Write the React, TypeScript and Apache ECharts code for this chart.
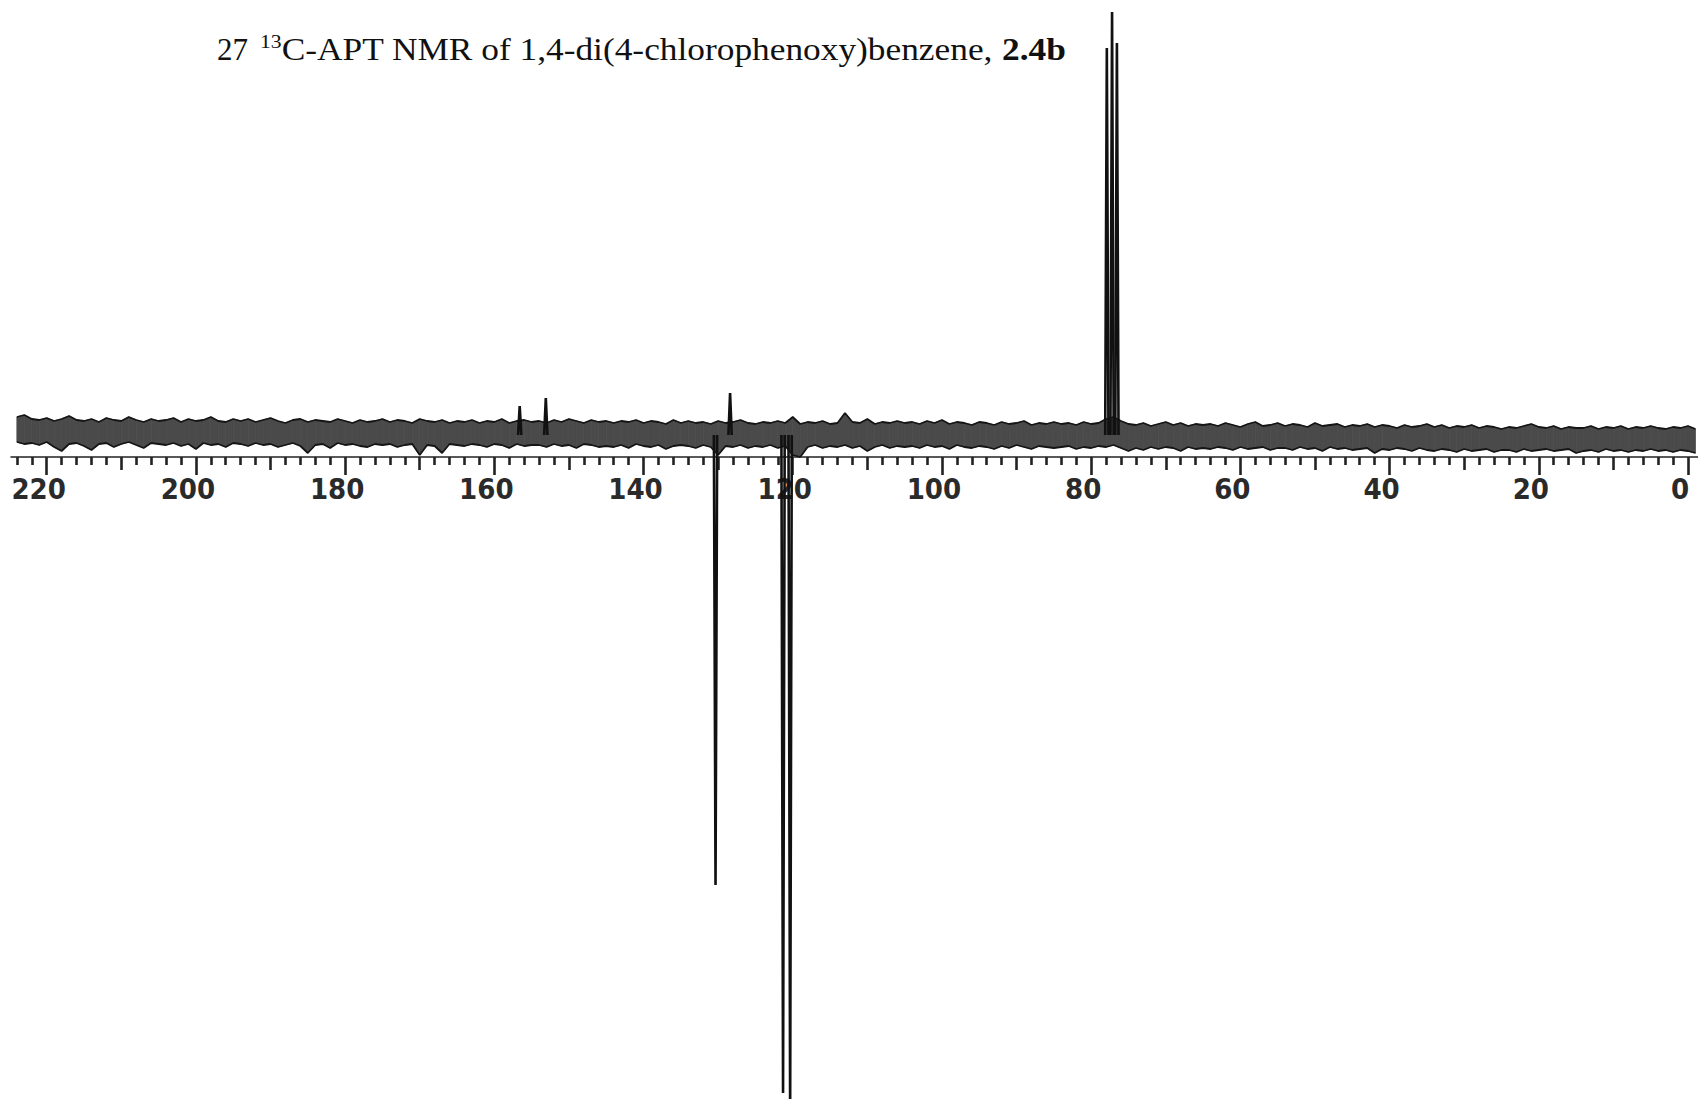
import React, { useEffect, useRef } from "react";
import * as echarts from "echarts";

// ---- data ----
// noise envelope of the baseline, sampled every 1 ppm from 224 ppm down to -1 ppm
// (intensity units: pixels of the original plot, 0 = mean baseline)
const NOISE_START_PPM = 224;
const NOISE_STEP_PPM = 1;
const noiseUpper = [
  18, 20, 16, 15, 17, 14, 16, 19, 15, 14,
  16, 13, 17, 15, 14, 18, 15, 13, 16, 14,
  15, 17, 13, 16, 14, 15, 18, 14, 13, 16,
  14, 16, 13, 15, 17, 14, 12, 15, 16, 13,
  15, 14, 13, 16, 14, 12, 15, 13, 14, 16,
  13, 15, 14, 12, 16, 14, 13, 15, 12, 14,
  13, 15, 12, 14, 13, 16, 12, 14, 15, 13,
  14, 12, 15, 13, 16, 14, 12, 15, 13, 14,
  12, 14, 13, 15, 12, 14, 13, 11, 15, 12,
  14, 12, 13, 11, 14, 12, 13, 15, 12, 11,
  13, 12, 14, 12, 18, 11, 13, 12, 14, 11,
  12, 22, 13, 12, 16, 11, 13, 12, 14, 12,
  13, 11, 14, 12, 15, 11, 13, 12, 10, 13,
  12, 10, 13, 11, 12, 14, 10, 12, 11, 13,
  11, 12, 10, 13, 11, 12, 16, 18, 14, 11,
  10, 12, 9, 11, 13, 10, 12, 9, 11, 10,
  11, 9, 12, 10, 8, 11, 13, 9, 10, 12,
  9, 11, 10, 8, 12, 9, 10, 11, 8, 10,
  9, 11, 8, 10, 9, 7, 10, 8, 9, 11,
  8, 10, 7, 9, 8, 10, 7, 9, 8, 6,
  8, 7, 9, 11, 8, 7, 9, 6, 8, 7,
  7, 9, 6, 8, 7, 9, 6, 8, 7, 9,
  7, 6, 8, 7, 9, 6,
];
const noiseLower = [
  -7, -9, -8, -10, -7, -12, -16, -9, -8, -11,
  -15, -9, -8, -12, -9, -7, -10, -13, -8, -9,
  -10, -8, -11, -9, -14, -8, -10, -9, -12, -8,
  -9, -11, -8, -10, -9, -12, -10, -8, -11, -18,
  -10, -9, -13, -8, -10, -9, -11, -12, -9, -10,
  -9, -12, -10, -9, -20, -10, -11, -18, -9, -10,
  -11, -9, -10, -12, -9, -10, -13, -9, -11, -10,
  -10, -12, -9, -11, -10, -13, -9, -10, -12, -11,
  -12, -10, -13, -9, -11, -12, -10, -14, -11, -10,
  -11, -13, -10, -12, -20, -11, -12, -10, -13, -11,
  -12, -10, -13, -11, -20, -22, -12, -10, -13, -11,
  -12, -10, -13, -11, -16, -12, -10, -13, -11, -12,
  -11, -13, -10, -12, -11, -14, -10, -12, -13, -11,
  -12, -14, -11, -13, -10, -12, -14, -11, -12, -13,
  -12, -11, -14, -12, -13, -11, -12, -10, -13, -16,
  -13, -15, -12, -14, -12, -13, -16, -12, -14, -13,
  -14, -12, -13, -15, -12, -14, -13, -12, -15, -13,
  -13, -15, -12, -14, -13, -16, -12, -14, -13, -15,
  -14, -13, -18, -14, -15, -13, -14, -16, -13, -15,
  -16, -14, -15, -17, -14, -16, -15, -14, -17, -15,
  -15, -17, -14, -16, -15, -14, -16, -15, -14, -18,
  -16, -15, -17, -14, -16, -15, -17, -15, -16, -14,
  -16, -15, -17, -15, -16, -18,
];

// resolved lines (ppm) and their APT intensities (positive = C / CH2, negative = CH / CH3)
const peakShifts = [156.6, 153.1, 128.4, 77.9, 77.2, 76.55, 130.35, 121.3, 120.35];
const peakIntensities = [29, 37, 42, 387, 423, 392, -450, -658, -680];

// ruler
const majorTicks = [220, 200, 180, 160, 140, 120, 100, 80, 60, 40, 20, 0];
const mediumTicks = [210, 190, 170, 150, 130, 110, 90, 70, 50, 30, 10];
const minorTicks = [
  224, 222, 218, 216, 214, 212, 208, 206, 204, 202,
  198, 196, 194, 192, 188, 186, 184, 182, 178, 176,
  174, 172, 168, 166, 164, 162, 158, 156, 154, 152,
  148, 146, 144, 142, 138, 136, 134, 132, 128, 126,
  124, 122, 118, 116, 114, 112, 108, 106, 104, 102,
  98, 96, 94, 92, 88, 86, 84, 82, 78, 76,
  74, 72, 68, 66, 64, 62, 58, 56, 54, 52,
  48, 46, 44, 42, 38, 36, 34, 32, 28, 26,
  24, 22, 18, 16, 14, 12, 8, 6, 4, 2,
];

const titleNumber = "27";
const titleIsotope = "13";
const titleText = "C-APT NMR of 1,4-di(4-chlorophenoxy)benzene, ";
const titleCompound = "2.4b";

// ---- layout (pixels) ----
const W = 1698;
const H = 1099;
const PPM_LEFT_EDGE = 226.26; // ppm at left edge of page
const PPM_RIGHT_EDGE = -1.34; // ppm at right edge of page
const RULER_LEFT = 11;
const PPM_RULER_LEFT = 224.785;
const AXIS_Y = 457;

const App: React.FC = () => {
  const ref = useRef<HTMLDivElement>(null);

  useEffect(() => {
    if (!ref.current) return;
    const chart = echarts.init(ref.current, null, { renderer: "svg" });

    const ppmAt = (i: number) => NOISE_START_PPM - i * NOISE_STEP_PPM;
    const bandRows = noiseUpper.map((v, i) => [ppmAt(i), v, noiseLower[i]]);
    const upperLine = noiseUpper.map((v, i) => [ppmAt(i), v]);
    const lowerLine = noiseLower.map((v, i) => [ppmAt(i), v]);

    const peakSeries = peakShifts.map((s, k) => ({
      type: "line",
      xAxisIndex: 0,
      yAxisIndex: 0,
      symbol: "none",
      z: 6,
      lineStyle: { color: "#111", width: 2.6 },
      data: [
        [s + 0.22, 0],
        [s, peakIntensities[k]],
        [s - 0.22, 0],
      ],
    }));

    const labelFont =
      '"Liberation Sans Narrow", "DejaVu Sans Condensed", "Liberation Sans", sans-serif';

    const rulerAxis = (ticks: number[], len: number, withLine: boolean, withLabels: boolean) => ({
      type: "value",
      gridIndex: 1,
      position: "bottom",
      inverse: true,
      min: PPM_RIGHT_EDGE,
      max: PPM_RULER_LEFT,
      splitLine: { show: false },
      axisLine: {
        show: withLine,
        onZero: false,
        lineStyle: { color: "#222", width: 1.5 },
      },
      axisTick: {
        show: true,
        customValues: ticks,
        length: len,
        lineStyle: { color: "#222", width: 2.6 },
      },
      axisLabel: withLabels
        ? {
            show: true,
            customValues: majorTicks,
            margin: 17,
            fontFamily: labelFont,
            fontWeight: "bold",
            fontSize: 29,
            color: "#2a2a2a",
            padding: [0, 16, 0, 0],
          }
        : { show: false },
    });

    const option: any = {
      animation: false,
      backgroundColor: "#ffffff",
      grid: [
        { left: 0, right: 0, top: 0, bottom: 0 },
        { left: RULER_LEFT, right: 0, top: AXIS_Y - 57, height: 57 },
      ],
      xAxis: [
        {
          type: "value",
          gridIndex: 0,
          inverse: true,
          min: PPM_RIGHT_EDGE,
          max: PPM_LEFT_EDGE,
          show: false,
          splitLine: { show: false },
        },
        rulerAxis(minorTicks, 8, true, false),
        rulerAxis(mediumTicks, 13, false, false),
        rulerAxis(majorTicks, 18, false, true),
      ],
      yAxis: [
        {
          type: "value",
          gridIndex: 0,
          min: -(H - 435),
          max: 435,
          show: false,
          splitLine: { show: false },
        },
        {
          type: "value",
          gridIndex: 1,
          min: 0,
          max: 1,
          show: false,
          splitLine: { show: false },
        },
      ],
      series: [
        {
          type: "custom",
          xAxisIndex: 0,
          yAxisIndex: 0,
          z: 2,
          data: bandRows,
          encode: { x: 0, y: [1, 2] },
          renderItem: (params: any, api: any) => {
            const i = params.dataIndex;
            if (i >= bandRows.length - 1) return null;
            const a = bandRows[i];
            const b = bandRows[i + 1];
            const pts = [
              api.coord([a[0], a[1]]),
              api.coord([b[0], b[1]]),
              api.coord([b[0], b[2]]),
              api.coord([a[0], a[2]]),
            ];
            return {
              type: "polygon",
              shape: { points: pts },
              style: { fill: "#4a4a4a", stroke: "#4a4a4a", lineWidth: 0.8 },
            };
          },
        },
        {
          type: "line",
          xAxisIndex: 0,
          yAxisIndex: 0,
          symbol: "none",
          lineStyle: { color: "#151515", width: 1.8 },
          data: upperLine,
          z: 3,
        },
        {
          type: "line",
          xAxisIndex: 0,
          yAxisIndex: 0,
          symbol: "none",
          lineStyle: { color: "#151515", width: 1.8 },
          data: lowerLine,
          z: 3,
        },
        ...peakSeries,
      ],
      graphic: [
        {
          type: "text",
          x: 217,
          y: 31.5,
          style: {
            text: titleNumber,
            fontFamily: '"Liberation Serif", "DejaVu Serif", serif',
            fontSize: 31,
            lineHeight: 36,
            fill: "#111",
            verticalAlign: "top",
          },
        },
        {
          type: "text",
          x: 260,
          y: 31.5,
          scaleX: 1.14,
          style: {
            text: `{s|${titleIsotope}}{m|${titleText}}{b|${titleCompound}}`,
            verticalAlign: "top",
            rich: {
              s: {
                fontFamily: '"Liberation Serif", "DejaVu Serif", serif',
                fontSize: 19,
                lineHeight: 26,
                verticalAlign: "top",
                fill: "#111",
                color: "#111",
              },
              m: {
                fontFamily: '"Liberation Serif", "DejaVu Serif", serif',
                fontSize: 31,
                lineHeight: 36,
                fill: "#111",
                color: "#111",
              },
              b: {
                fontFamily: '"Liberation Serif", "DejaVu Serif", serif',
                fontSize: 31,
                fontWeight: "bold",
                lineHeight: 36,
                fill: "#111",
                color: "#111",
              },
            },
          },
        },
      ],
    };

    chart.setOption(option);
    return () => chart.dispose();
  }, []);

  return (
    <div
      ref={ref}
      style={{ position: "absolute", left: 0, top: 0, width: W, height: H }}
    />
  );
};

export default App;
